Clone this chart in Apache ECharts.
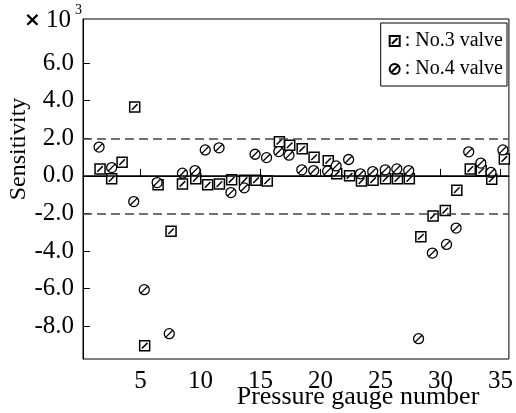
<!DOCTYPE html>
<html>
<head>
<meta charset="utf-8">
<script src="https://cdn.jsdelivr.net/npm/echarts@6/dist/echarts.min.js"></script>
<style>
  html, body { margin: 0; padding: 0; background: #fff; }
  #chart { width: 516px; height: 413px; }
</style>
</head>
<body>
<div id="chart"></div>
<script>
// No.3 valve (square markers): gauge position, sensitivity (x 10^3)
var valve3X = [1.62, 2.59, 3.46, 4.51, 5.34, 6.46, 7.54, 8.49, 9.60, 10.59, 11.57, 12.59,
    13.66, 14.62, 15.56, 16.57, 17.43, 18.47, 19.46, 20.64, 21.35, 22.42, 23.41, 24.38,
    25.42, 26.41, 27.40, 28.36, 29.38, 30.40, 31.36, 32.48, 33.39, 34.27, 35.32];
var valve3Y = [0.37, -0.16, 0.73, 3.67, -9.04, -0.48, -2.95, -0.43, -0.16, -0.48, -0.44, -0.21,
    -0.23, -0.23, -0.28, 1.82, 1.63, 1.44, 0.99, 0.80, 0.11, 0.00, -0.28, -0.23,
    -0.16, -0.16, -0.16, -3.24, -2.14, -1.85, -0.76, 0.36, 0.27, -0.18, 0.90];

// No.4 valve (circle markers)
var valve4X = [1.54, 2.59, 4.43, 5.31, 6.38, 7.39, 8.49, 9.54, 10.39, 11.54, 12.53, 13.64,
    14.54, 15.50, 16.52, 17.37, 18.44, 19.43, 20.59, 21.30, 22.34, 23.33, 24.35, 25.39,
    26.36, 27.35, 28.17, 29.32, 30.50, 31.30, 32.35, 33.36, 34.21, 35.20];
var valve4Y = [1.53, 0.44, -1.37, -6.06, -0.36, -8.40, 0.14, 0.28, 1.38, 1.49, -0.89, -0.64,
    1.15, 0.97, 1.29, 1.10, 0.32, 0.28, 0.25, 0.53, 0.87, 0.11, 0.23, 0.32,
    0.37, 0.28, -8.67, -4.11, -3.65, -2.78, 1.28, 0.68, 0.18, 1.38];

var xTicks = [5, 10, 15, 20, 25, 30, 35];
var yTicks = [-8, -6, -4, -2, 0, 2, 4, 6];
var limitLines = [2, -2];

var squareIcon = 'path://M0,0L10,0L10,10L0,10ZM2.2,7.8L7.8,2.2';
var circleIcon = 'path://M0,5A5,5,0,1,1,10,5A5,5,0,1,1,0,5ZM1.8,8.2L8.2,1.8';

function pairs(xs, ys) {
    return xs.map(function (x, i) { return [x, ys[i]]; });
}

var serif = 'Liberation Serif';
var myChart = echarts.init(document.getElementById('chart'));

option = {
    backgroundColor: '#fff',
    animation: false,
    grid: {
        left: 83,
        top: 19,
        right: 3,
        bottom: 54,
        show: true,
        borderColor: '#000',
        borderWidth: 1
    },
    legend: {
        orient: 'vertical',
        right: 9,
        top: 23,
        padding: [8, 4, 7, 8],
        itemGap: 8,
        itemWidth: 10,
        itemHeight: 10,
        borderColor: '#000',
        borderWidth: 1,
        textStyle: {fontFamily: serif, fontSize: 20, color: '#000'},
        data: [
            {name: ': No.3 valve', icon: squareIcon},
            {name: ': No.4 valve', icon: circleIcon}
        ]
    },
    xAxis: {
        type: 'value',
        min: 0.2,
        max: 35.7,
        splitLine: {show: false},
        axisLine: {lineStyle: {color: '#000', width: 1}},
        axisTick: {inside: true, length: 7, customValues: xTicks, lineStyle: {color: '#000'}},
        axisLabel: {
            customValues: xTicks,
            margin: 10,
            fontFamily: serif,
            fontSize: 25,
            color: '#000'
        }
    },
    yAxis: {
        type: 'value',
        min: -9.75,
        max: 8.35,
        splitLine: {show: false},
        axisLine: {lineStyle: {color: '#000', width: 1}},
        axisTick: {inside: true, length: 7, customValues: yTicks, lineStyle: {color: '#000'}},
        axisLabel: {
            customValues: yTicks,
            margin: 9,
            fontFamily: serif,
            fontSize: 25,
            color: '#000',
            formatter: function (v) { return v.toFixed(1); }
        }
    },
    graphic: [
        {
            type: 'text', left: 24, top: 11,
            style: {text: '\u00d7', font: 'bold 20px DejaVu Sans', fill: '#000'}
        },
        {
            type: 'text', left: 46, top: 8,
            style: {text: '10', font: '25px ' + serif, fill: '#000'}
        },
        {
            type: 'text', left: 75, top: 3,
            style: {text: '3', font: '14px ' + serif, fill: '#000'}
        },
        {
            type: 'text', x: 19, y: 149, rotation: Math.PI / 2,
            style: {
                text: 'Sensitivity', font: '24px ' + serif, fill: '#000',
                align: 'center', verticalAlign: 'middle'
            }
        },
        {
            type: 'text', x: 358, y: 397,
            style: {
                text: 'Pressure gauge number', font: '26px ' + serif, fill: '#000',
                align: 'center', verticalAlign: 'middle'
            }
        }
    ],
    series: [
        {
            name: ': No.3 valve',
            type: 'scatter',
            symbol: squareIcon,
            symbolSize: 10,
            itemStyle: {color: '#fff', borderColor: '#000', borderWidth: 1.5, opacity: 1},
            data: pairs(valve3X, valve3Y),
            markLine: {
                silent: true,
                symbol: 'none',
                label: {show: false},
                data: limitLines.map(function (v) {
                    return {yAxis: v, lineStyle: {color: '#444', type: [9, 5], width: 1.5}};
                }).concat([{yAxis: 0, lineStyle: {color: '#000', type: 'solid', width: 1.5}}])
            }
        },
        {
            name: ': No.4 valve',
            type: 'scatter',
            symbol: circleIcon,
            symbolSize: 10,
            itemStyle: {color: '#fff', borderColor: '#000', borderWidth: 1.3, opacity: 1},
            data: pairs(valve4X, valve4Y)
        }
    ]
};
myChart.setOption(option);
</script>
</body>
</html>
